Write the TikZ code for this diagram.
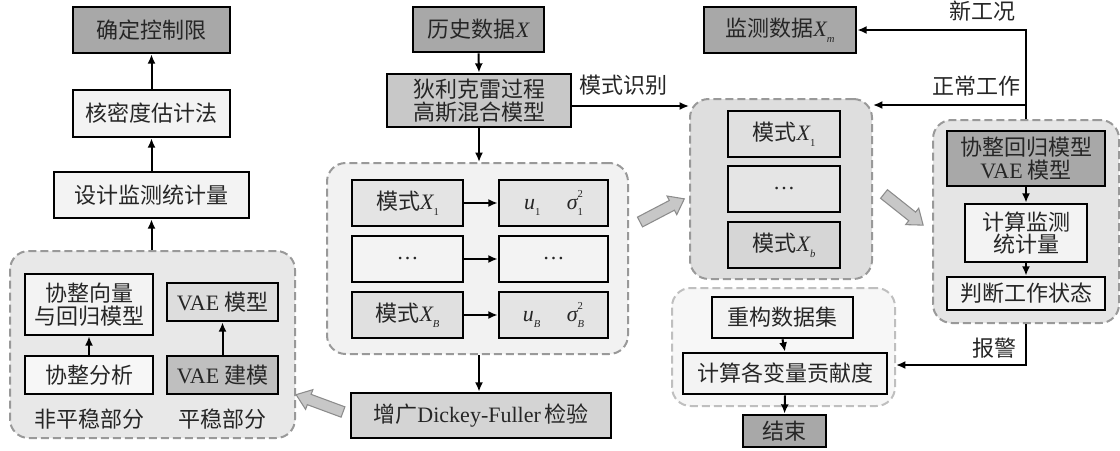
\documentclass[tikz,border=0pt]{standalone}
\usepackage{fontspec}
\setmainfont{Noto Sans CJK SC}
\newfontfamily\tms{Liberation Serif}
\usetikzlibrary{arrows.meta}
\definecolor{dk}{HTML}{A8A8A8}
\definecolor{md}{HTML}{C8C8C8}
\definecolor{mdl}{HTML}{D4D4D4}
\definecolor{lt}{HTML}{F3F3F3}
\definecolor{lg}{HTML}{E4E4E4}
\newcommand{\mvar}[2]{{\tms\itshape #1}\raisebox{-0.5ex}{\fontsize{8}{8}\selectfont\tms #2}}
\newcommand{\sgm}[1]{{\tms\itshape σ}\rlap{\raisebox{1.0ex}{\fontsize{8}{8}\selectfont\tms 2}}\raisebox{-0.5ex}{\fontsize{8}{8}\selectfont\tms #1}}
\newcommand{\blockarr}[3]{%
  \begin{scope}[shift={(#1,#2)}, rotate=#3]
    \draw[barrow] (0,-5.5) -- (36,-5.5) -- (36,-10.5) -- (50,0) -- (36,10.5) -- (36,5.5) -- (0,5.5) -- cycle;
  \end{scope}}
\begin{document}
\begin{tikzpicture}[x=0.75pt,y=-0.75pt,
  font=\fontsize{16.5}{19}\selectfont,
  box/.style={draw=black, line width=2pt, inner sep=0pt, align=center, text=black!85},
  wh/.style 2 args={minimum width=#1*0.75pt, minimum height=#2*0.75pt},
  cont/.style={draw=black!40, dash pattern=on 6pt off 3pt, line width=1.5pt, rounded corners=14pt},
  arr/.style={line width=1.5pt, -{Latex[length=7pt,width=6pt]}},
  barrow/.style={fill=black!22, draw=black!45, line width=0.8pt, line join=miter},
  lbl/.style={text=black!85, inner sep=0pt}]
\useasboundingbox (0,0) rectangle (1120,450);

% containers
\node[cont, fill=black!9, wh={285}{187}] (c0) at (152.5,344.5) {};
\node[cont, fill=black!5, wh={301}{191}] (c1) at (477.5,258.5) {};
\node[cont, fill=black!13, wh={182}{180}] (c2) at (781,189) {};
\node[cont, fill=black!10, wh={186}{203}] (c3) at (1026,221.5) {};
\node[cont, draw=black!25, fill=black!3, wh={223}{118}] (c4) at (783.5,347) {};

% left column
\node[box, fill=dk, wh={157}{46}] (ctrl) at (151.5,30) {确定控制限};
\node[box, fill=lt, wh={157}{47}] (kde) at (151.5,113.5) {核密度估计法};
\node[box, fill=lt, wh={195}{46}] (stat) at (151.5,195) {设计监测统计量};
\node[box, fill=lt, wh={128}{61}, font=\fontsize{16.5}{17}\selectfont] (cvec) at (89,304.5) {协整向量\\与回归模型};
\node[box, fill=white!97!black, wh={128}{38}] (cana) at (89,375) {协整分析};
\node[box, fill=mdl!80!white, wh={111}{38}] (vaem) at (222.5,302) {{\tms VAE} 模型};
\node[box, fill=black!25, wh={111}{38}] (vaeb) at (222.5,375) {{\tms VAE} 建模};
\node[lbl] (lns) at (89,419) {非平稳部分};
\node[lbl] (lst) at (222,419) {平稳部分};

% middle column
\node[box, fill=dk, wh={131}{45}] (hist) at (478.5,29.5) {历史数据{\tms\itshape X}};
\node[box, fill=md, wh={184}{53}, font=\fontsize{16.5}{17}\selectfont] (dp) at (479,100.5) {狄利克雷过程\\高斯混合模型};
\node[lbl] (lrec) at (623,85) {模式识别};
\node[box, fill=lg, wh={111}{46}] (r1l) at (407.5,203) {模式\mvar{X}{1}};
\node[box, fill=lg, wh={109}{46}] (r1r) at (553.5,203) {\mvar{u}{1}\hspace{1.2em}\sgm{1}};
\node[box, fill=lt, wh={111}{46}] (r2l) at (407.5,259) {\tms …};
\node[box, fill=lt, wh={109}{46}] (r2r) at (553.5,259) {\tms …};
\node[box, fill=black!12, wh={111}{46}] (r3l) at (407.5,315) {模式\mvar{X}{\itshape B}};
\node[box, fill=lg, wh={109}{46}] (r3r) at (553.5,315) {\mvar{u}{\itshape B}\hspace{1.2em}\sgm{\itshape B}};
\node[box, fill=mdl, wh={260}{45}] (adf) at (481,415.5) {增广{\tms Dickey-Fuller}\,检验};

% right-middle
\node[box, fill=dk, wh={152}{46}] (mon) at (780,30) {监测数据\mvar{X}{\itshape m}};
\node[box, fill=black!12, wh={112}{46}] (m1) at (784,134) {模式\mvar{X}{1}};
\node[box, fill=black!10, wh={112}{46}] (m2) at (784,189) {\tms …};
\node[box, fill=black!16, wh={112}{46}] (mb) at (784,245) {模式\mvar{X}{\itshape b}};
\node[box, fill=lt, wh={141}{41}] (rec) at (782.5,317.5) {重构数据集};
\node[box, fill=lt, wh={204}{41}] (contr) at (785,373.5) {计算各变量贡献度};
\node[box, fill=dk, wh={83}{32}] (end) at (784.5,431) {结束};

% right
\node[box, fill=dk, wh={158}{55}, font=\fontsize{16.5}{17}\selectfont] (coreg) at (1026,158.5) {协整回归模型\\{\tms VAE} 模型};
\node[box, fill=lt, wh={122}{58}, font=\fontsize{16.5}{17}\selectfont] (calc) at (1026,233) {计算监测\\统计量};
\node[box, fill=lt, wh={158}{33}] (judge) at (1026,293.5) {判断工作状态};
\node[lbl] (lnew) at (982,11) {新工况};
\node[lbl] (lnorm) at (976,86) {正常工作};
\node[lbl] (lalarm) at (994,348) {报警};

% connectors
\draw[arr] (kde.north) -- (ctrl.south);
\draw[arr] (stat.north) -- (kde.south);
\draw[arr] (stat.south |- c0.north) -- (stat.south);
\draw[arr] (cana.north) -- (cvec.south);
\draw[arr] (vaeb.north) -- (vaem.south);
\draw[arr] (hist.south) -- (dp.north);
\draw[arr] (dp.south) -- (dp.south |- c1.north);
\coordinate (ry) at (0,106);
\draw[arr] (dp.east |- ry) -- (c2.west |- ry);
\draw[arr] (r1l.east) -- (r1r.west);
\draw[arr] (r2l.east) -- (r2r.west);
\draw[arr] (r3l.east) -- (r3r.west);
\draw[arr] (dp.south |- c1.south) -- (dp.south |- adf.north);
\draw[arr] (c3.north) |- (mon.east);
\coordinate (ny) at (0,105);
\draw[arr] (c3.north |- ny) -- (c2.east |- ny);
\draw[arr] (coreg.south) -- (calc.north);
\draw[arr] (calc.south) -- (judge.north);
\coordinate (ay) at (0,365);
\draw[arr] (c3.south) -- (c3.south |- ay) -- (c4.east |- ay);
\draw[arr] (rec.south) -- (contr.north);
\draw[arr] (contr.south) -- (end.north);

% block arrows
\blockarr{343}{412}{159.7}
\blockarr{640}{222}{27.6}
\blockarr{884}{194}{-38.5}
\end{tikzpicture}
\end{document}
